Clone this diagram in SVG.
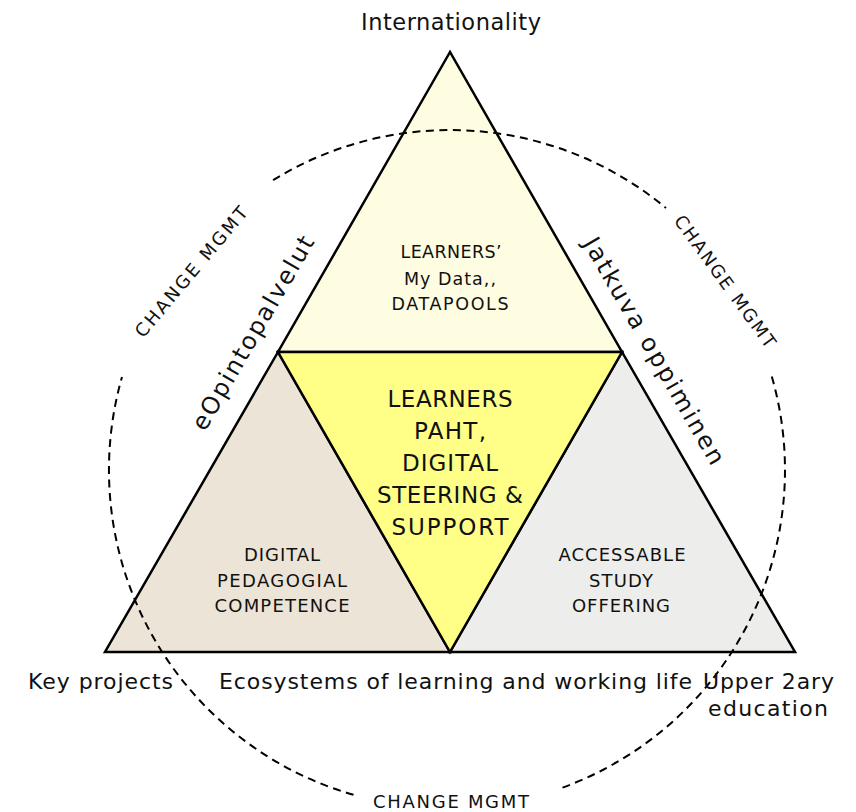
<svg xmlns="http://www.w3.org/2000/svg" width="856" height="812" viewBox="0 0 856 812">
<style>
  .tri { stroke: #000; stroke-width: 2.5; stroke-linejoin: miter; }
  .t { font-family: "DejaVu Sans", Inter, "Liberation Sans", sans-serif; fill: #111; text-anchor: middle; }
  .g { font-family: "DejaVu Sans", "Liberation Sans", sans-serif; fill: #111; text-anchor: middle; }
  .dash { fill: none; stroke: #000; stroke-width: 2; stroke-dasharray: 8 5.5; }
</style>
<rect width="856" height="812" fill="#fff"/>
<g id="top-triangle">
  <polygon class="tri" points="450,52 278,352 622,352" fill="#FFFDE1"/>
  <text class="t" font-size="17.5"><tspan x="451" y="258" textLength="101">LEARNERS’</tspan><tspan x="450" y="285" textLength="92">My Data,,</tspan><tspan x="450" y="310" textLength="117">DATAPOOLS</tspan></text>
</g>
<g id="left-triangle">
  <polygon class="tri" points="278,352 105,652 450,652" fill="#ECE4D6"/>
  <text class="t" font-size="18"><tspan x="282" y="561" textLength="76">DIGITAL</tspan><tspan x="282" y="587" textLength="130">PEDAGOGIAL</tspan><tspan x="282" y="612" textLength="135">COMPETENCE</tspan></text>
</g>
<g id="right-triangle">
  <polygon class="tri" points="622,352 450,652 795,652" fill="#EDEDEB"/>
  <text class="t" font-size="18"><tspan x="622" y="561" textLength="127">ACCESSABLE</tspan><tspan x="621" y="587" textLength="64">STUDY</tspan><tspan x="621" y="612" textLength="98">OFFERING</tspan></text>
</g>
<g id="center-triangle">
  <polygon class="tri" points="278,352 622,352 450,652" fill="#FFFF88"/>
  <text class="t" font-size="23"><tspan x="450" y="407" textLength="125">LEARNERS</tspan><tspan x="450" y="439" textLength="72">PAHT,</tspan><tspan x="450" y="471" textLength="96">DIGITAL</tspan><tspan x="450" y="503" textLength="146">STEERING &amp;</tspan><tspan x="450" y="535" textLength="117">SUPPORT</tspan></text>
</g>
<g id="connectors">
  <path class="dash" d="M 273.1 180.1 A 338 338 0 0 1 666 208"/>
  <path class="dash" d="M 771.8 376.5 A 338 338 0 0 1 557.5 789.4"/>
  <path class="dash" d="M 353.5 794.8 A 338 338 0 0 1 122 377"/>
</g>
<g id="labels">
  <text class="t" font-size="22.5" x="451" y="30" textLength="180">Internationality</text>
  <text class="t" font-size="22" x="100.5" y="689" textLength="145">Key projects</text>
  <text class="t" font-size="22" x="455.5" y="689" textLength="473">Ecosystems of learning and working life</text>
  <text class="t" font-size="22"><tspan x="768.5" y="689" textLength="131">Upper 2ary</tspan><tspan x="768" y="716" textLength="120">education</tspan></text>
  <text class="t" font-size="18" x="451" y="808" textLength="156">CHANGE MGMT</text>
  <text class="g" font-size="18" transform="translate(196,276) rotate(-50)" textLength="164">CHANGE MGMT</text>
  <text class="g" font-size="18" transform="translate(720,285) rotate(54)" textLength="159">CHANGE MGMT</text>
  <text class="g" font-size="24" transform="translate(260,337) rotate(-60)" textLength="220">eOpintopalvelut</text>
  <text class="g" font-size="24" transform="translate(647,355) rotate(60)" textLength="258">Jatkuva oppiminen</text>
</g>
</svg>
